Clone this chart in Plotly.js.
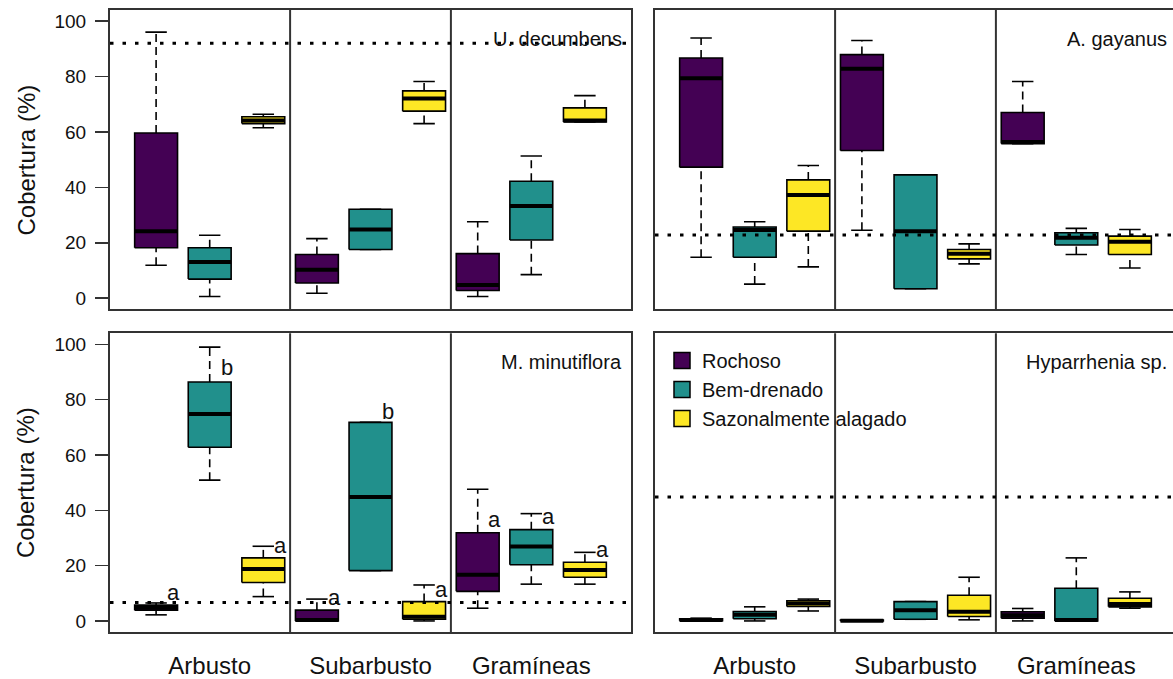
<!DOCTYPE html>
<html><head><meta charset="utf-8">
<script src="https://cdn.plot.ly/plotly-3.0.1.min.js"></script>
<style>html,body{margin:0;padding:0;background:#fff;overflow:hidden}#chart{width:1173px;height:679px}</style>
</head><body><div id="chart"></div>
<script>
// ---------------- data ----------------
const groups = ['Arbusto', 'Subarbusto', 'Gramíneas'];
const habitats = ['Rochoso', 'Bem-drenado', 'Sazonalmente alagado'];
const habitatColors = ['#440154', '#21908C', '#FDE725'];
const species = ['U. decumbens', 'A. gayanus', 'M. minutiflora', 'Hyparrhenia sp.'];
const refLine = [92, 22.8, 6.7, 44.8];
const yTicks = [0, 20, 40, 60, 80, 100];

// order: Arbusto(R,B,S), Subarbusto(R,B,S), Gramíneas(R,B,S)
const uLow  = [11.9, 0.6, 61.5, 1.8, 17.6, 63.0, 0.6, 8.5, 63.6];
const uQ1   = [18.2, 6.9, 63.0, 5.5, 17.6, 67.5, 2.8, 21.0, 63.6];
const uMed  = [24.2, 13.1, 64.1, 10.3, 24.8, 72.1, 4.8, 33.3, 64.1];
const uQ3   = [59.6, 18.2, 65.5, 15.8, 32.1, 74.8, 16.1, 42.2, 68.7];
const uHigh = [96.0, 22.7, 66.4, 21.5, 32.1, 78.2, 27.6, 51.3, 73.1];

const aLow  = [14.8, 5.1, 11.3, 24.5, 3.4, 12.4, 55.8, 15.8, 10.9];
const aQ1   = [47.3, 14.8, 24.2, 53.3, 3.4, 14.2, 55.8, 19.2, 15.8];
const aMed  = [79.4, 24.6, 37.2, 82.8, 24.2, 16.0, 56.4, 21.8, 20.4];
const aQ3   = [86.7, 25.7, 42.7, 87.9, 44.5, 17.6, 67.0, 23.6, 22.4];
const aHigh = [93.9, 27.6, 47.9, 93.0, 44.5, 19.6, 78.2, 25.2, 24.8];

const mLow  = [2.2, 50.9, 8.8, 0.0, 18.2, 0.0, 4.6, 13.3, 13.3];
const mQ1   = [3.9, 62.8, 13.9, 0.0, 18.2, 0.6, 10.7, 20.3, 15.8];
const mMed  = [4.8, 74.8, 18.8, 0.3, 44.8, 1.5, 16.7, 26.9, 18.4];
const mQ3   = [5.7, 86.4, 22.8, 3.9, 71.8, 7.0, 31.9, 33.0, 21.2];
const mHigh = [6.5, 99.0, 27.0, 7.9, 71.8, 13.0, 47.6, 38.8, 24.8];

const hLow  = [0.0, 0.0, 3.6, 0.0, 0.6, 0.4, 0.0, 0.0, 4.6];
const hQ1   = [0.1, 0.8, 5.2, 0.0, 0.6, 1.6, 1.0, 0.0, 5.1];
const hMed  = [0.3, 2.2, 6.3, 0.1, 3.9, 3.3, 2.1, 0.3, 6.1];
const hQ3   = [0.8, 3.4, 7.3, 0.3, 7.0, 9.3, 3.3, 11.8, 8.2];
const hHigh = [1.0, 5.1, 7.9, 0.3, 7.0, 15.8, 4.5, 22.8, 10.5];

// significance letters (M. minutiflora panel)
const mLetters = ['a', 'b', 'a', 'a', 'b', 'a', 'a', 'a', 'a'];
const mLetterY = [10.3, 91.5, 27.3, 8.5, 75.8, 11.2, 36.6, 37.6, 26.0];

// ---------------- build ----------------
const stats = [
  {lo: uLow, q1: uQ1, med: uMed, q3: uQ3, hi: uHigh},
  {lo: aLow, q1: aQ1, med: aMed, q3: aQ3, hi: aHigh},
  {lo: mLow, q1: mQ1, med: mMed, q3: mQ3, hi: mHigh},
  {lo: hLow, q1: hQ1, med: hMed, q3: hQ3, hi: hHigh}
];
const FONT = 'Liberation Sans, Arial, Helvetica, sans-serif';
const W = 1173, H = 679;
const fx = px => px / W, fy = py => 1 - py / H;
const axId = k => (k === 0 ? '' : String(k + 1));
const HALF = 0.4, STAPLE = 0.2;
const posOf = (g, h) => g * habitats.length + h + 1;

const traces = [], shapes = [], annotations = [];

stats.forEach((s, k) => {
  const xa = 'x' + axId(k), ya = 'y' + axId(k);
  const wx = [], wy = [], sx = [], sy = [], mx = [], my = [];
  s.med.forEach((m, i) => {
    const p = i + 1;
    if (s.hi[i] > s.q3[i]) { wx.push(p, p, null); wy.push(s.q3[i], s.hi[i], null); }
    if (s.lo[i] < s.q1[i]) { wx.push(p, p, null); wy.push(s.lo[i], s.q1[i], null); }
    sx.push(p - STAPLE, p + STAPLE, null, p - STAPLE, p + STAPLE, null);
    sy.push(s.hi[i], s.hi[i], null, s.lo[i], s.lo[i], null);
    mx.push(p - HALF, p + HALF, null);
    my.push(m, m, null);
  });
  traces.push({type: 'scatter', mode: 'lines', x: wx, y: wy, xaxis: xa, yaxis: ya,
    line: {color: '#000', width: 1.6, dash: '8px,5px'}, hoverinfo: 'skip', showlegend: false});
  traces.push({type: 'scatter', mode: 'lines', x: sx, y: sy, xaxis: xa, yaxis: ya,
    line: {color: '#000', width: 1.6}, hoverinfo: 'skip', showlegend: false});
  habitats.forEach((hab, h) => {
    const bx = [], by = [];
    groups.forEach((g, gi) => {
      const i = posOf(gi, h) - 1, p = i + 1;
      bx.push(p - HALF, p + HALF, p + HALF, p - HALF, p - HALF, null);
      by.push(s.q1[i], s.q1[i], s.q3[i], s.q3[i], s.q1[i], null);
    });
    traces.push({type: 'scatter', mode: 'lines', x: bx, y: by, xaxis: xa, yaxis: ya,
      fill: 'toself', fillcolor: habitatColors[h], line: {color: '#000', width: 1.6},
      name: hab, hoverinfo: 'skip', showlegend: false});
  });
  traces.push({type: 'scatter', mode: 'lines', x: mx, y: my, xaxis: xa, yaxis: ya,
    line: {color: '#000', width: 4}, hoverinfo: 'skip', showlegend: false});

  // group dividers
  for (let g = 1; g < groups.length; g++) {
    const xv = g * habitats.length + 0.5;
    shapes.push({type: 'line', xref: xa, yref: ya + ' domain', x0: xv, x1: xv, y0: 0, y1: 1,
      line: {color: '#333', width: 2}, layer: 'above'});
  }
  // dotted reference line
  shapes.push({type: 'line', xref: xa + ' domain', yref: ya, x0: 0, x1: 1, y0: refLine[k], y1: refLine[k],
    line: {color: '#000', width: 3, dash: '3.5px,9px'}, layer: 'above'});
  // species label
  annotations.push({xref: xa, yref: ya, x: 9.72, y: 93.5, xanchor: 'right', yanchor: 'middle',
    text: species[k], showarrow: false, font: {family: FONT, size: 20, color: '#111'}});
});

// letters on M. minutiflora
mLetters.forEach((t, i) => {
  annotations.push({xref: 'x3', yref: 'y3', x: i + 1 + 0.32, y: mLetterY[i], text: t, showarrow: false,
    xanchor: 'center', yanchor: 'middle', font: {family: FONT, size: 22, color: '#111'}});
});

// y titles
[160, 482.5].forEach(py => {
  annotations.push({xref: 'paper', yref: 'paper', x: fx(25.5), y: fy(py), text: 'Cobertura (%)',
    textangle: -90, showarrow: false, xanchor: 'center', yanchor: 'middle',
    font: {family: FONT, size: 24, color: '#111'}});
});

// legend entries
habitats.forEach((hab, h) => {
  traces.push({type: 'scatter', mode: 'markers', x: [null], y: [null], xaxis: 'x4', yaxis: 'y4', name: hab,
    marker: {symbol: 'square', size: 16, color: habitatColors[h], line: {color: '#000', width: 1.5}},
    showlegend: true, hoverinfo: 'skip'});
});

const centers = groups.map((g, gi) => posOf(gi, 1));
const unit = (631 - 110) / 9.72;
const xBase = {showline: true, mirror: true, linecolor: '#333', linewidth: 2, zeroline: false, showgrid: false,
  tickmode: 'array', tickvals: centers, ticktext: groups, ticks: '', fixedrange: true,
  tickfont: {family: FONT, size: 24, color: '#111'}, ticklabelstandoff: 11};
const yBase = {showline: true, linecolor: '#333', linewidth: 2, zeroline: false, showgrid: false,
  range: [-4, 104], fixedrange: true, tickmode: 'array', tickvals: yTicks};
const yLeft = Object.assign({}, yBase, {mirror: true, ticks: 'outside', ticklen: 13, tickwidth: 1.6, tickcolor: '#333',
  tickfont: {family: FONT, size: 19, color: '#111'}, ticklabelstandoff: 5});
const yRight = Object.assign({}, yBase, {mirror: false, ticks: '', showticklabels: false});

const layout = {
  width: W, height: H, margin: {l: 0, r: 0, t: 0, b: 0},
  paper_bgcolor: '#fff', plot_bgcolor: '#fff', font: {family: FONT, color: '#111'},
  showlegend: true,
  legend: {x: fx(662), xanchor: 'left', y: fy(341), yanchor: 'top', bgcolor: 'rgba(0,0,0,0)',
    font: {family: FONT, size: 20, color: '#111'}, traceorder: 'normal', itemclick: false, itemdoubleclick: false},
  xaxis:  Object.assign({}, xBase, {domain: [fx(110), fx(631)], anchor: 'y', range: [0.14, 9.86], showticklabels: false}),
  xaxis2: Object.assign({}, xBase, {domain: [fx(655), 1], anchor: 'y2', range: [0.14, 0.14 + (W - 655) / unit], showticklabels: false}),
  xaxis3: Object.assign({}, xBase, {domain: [fx(110), fx(631)], anchor: 'y3', range: [0.14, 9.86]}),
  xaxis4: Object.assign({}, xBase, {domain: [fx(655), 1], anchor: 'y4', range: [0.14, 0.14 + (W - 655) / unit]}),
  yaxis:  Object.assign({}, yLeft,  {domain: [fy(309.3), fy(10)], anchor: 'x'}),
  yaxis2: Object.assign({}, yRight, {domain: [fy(309.3), fy(10)], anchor: 'x2'}),
  yaxis3: Object.assign({}, yLeft,  {domain: [fy(632), fy(333.3)], anchor: 'x3'}),
  yaxis4: Object.assign({}, yRight, {domain: [fy(632), fy(333.3)], anchor: 'x4'}),
  shapes: shapes, annotations: annotations
};

Plotly.newPlot('chart', traces, layout, {displayModeBar: false, staticPlot: true});
</script></body></html>
